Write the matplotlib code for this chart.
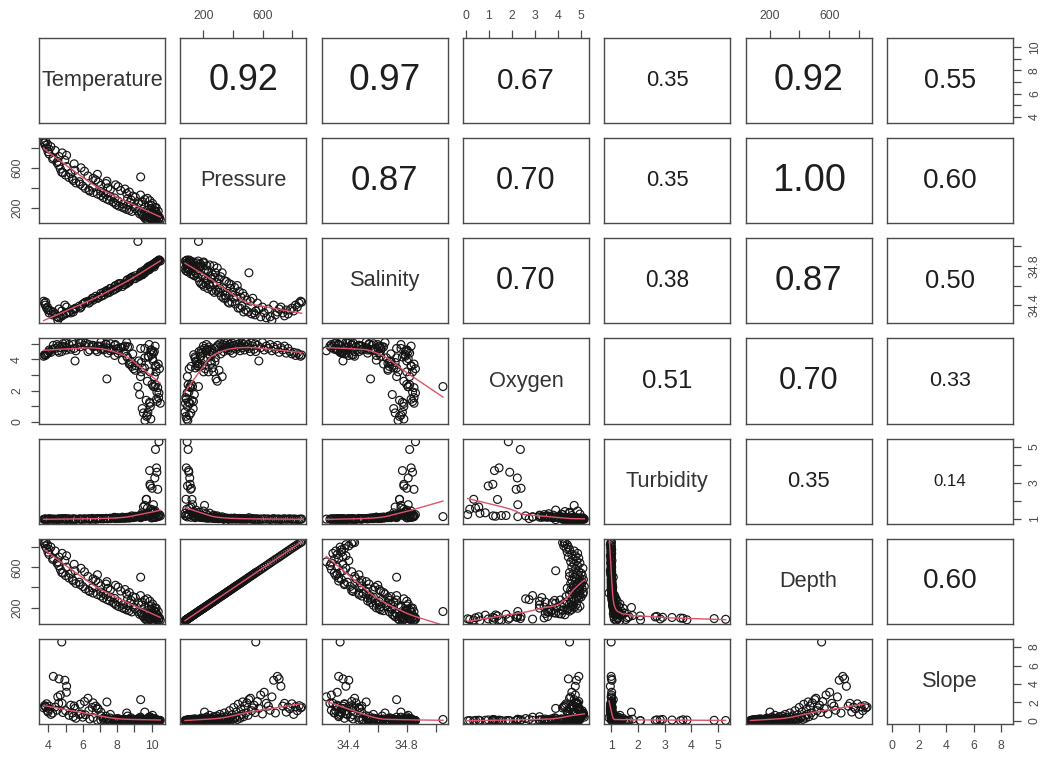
import numpy as np
import matplotlib
matplotlib.use("Agg")
import matplotlib.pyplot as plt

plt.rcParams['font.family'] = ['Liberation Sans', 'DejaVu Sans']

names = ["Temperature", "Pressure", "Salinity", "Oxygen", "Turbidity", "Depth", "Slope"]

depth = [71, 74, 78, 80, 83, 85, 88, 90, 92, 95,
         97, 100, 103, 105, 108, 110, 114, 118, 122, 126,
         130, 134, 138, 142, 146, 150, 155, 158, 162, 166,
         170, 174, 178, 182, 186, 190, 194, 198, 202, 206,
         210, 215, 220, 224, 228, 232, 236, 240, 244, 248,
         252, 256, 260, 264, 268, 272, 276, 280, 284, 288,
         292, 296, 300, 305, 310, 315, 320, 325, 330, 335,
         340, 345, 350, 355, 360, 365, 370, 375, 380, 386,
         392, 398, 404, 410, 416, 422, 428, 434, 440, 446,
         452, 458, 464, 470, 478, 486, 494, 502, 510, 518,
         526, 534, 542, 548, 556, 566, 578, 590, 602, 616,
         630, 642, 654, 666, 678, 690, 702, 714, 726, 738,
         750, 762, 775, 788, 800, 812, 824, 836, 845, 852,
         76, 87, 99, 112, 128, 140, 160, 176, 196, 218]

pressure = [76, 79, 83, 85, 88, 90, 93, 95, 97, 100,
            102, 105, 108, 110, 113, 115, 119, 123, 127, 131,
            135, 139, 143, 147, 151, 155, 160, 163, 167, 171,
            175, 179, 183, 187, 191, 196, 200, 204, 208, 212,
            216, 221, 226, 230, 234, 238, 242, 246, 250, 254,
            258, 262, 266, 270, 274, 278, 282, 286, 290, 294,
            298, 302, 306, 311, 317, 322, 327, 332, 337, 342,
            347, 352, 357, 362, 367, 372, 377, 382, 387, 393,
            399, 405, 411, 417, 423, 429, 435, 442, 448, 454,
            460, 466, 472, 478, 486, 494, 502, 508, 518, 526,
            534, 542, 550, 554, 565, 575, 587, 599, 611, 625,
            639, 651, 663, 675, 687, 700, 712, 724, 736, 748,
            760, 772, 785, 798, 810, 823, 835, 847, 857, 864,
            81, 92, 104, 117, 133, 145, 165, 181, 202, 224]

temperature = [9.78, 10.50, 9.70, 10.28, 9.95, 10.42, 9.92, 9.61, 10.22, 9.88,
               10.30, 9.75, 10.18, 9.90, 10.35, 9.52, 10.02, 9.68, 10.10, 9.45,
               9.98, 9.30, 9.82, 9.58, 10.08, 9.40, 10.25, 8.85, 9.20, 10.15,
               8.70, 9.80, 8.55, 9.95, 9.05, 8.40, 10.20, 8.30, 9.60, 8.95,
               8.10, 9.85, 8.60, 7.95, 9.40, 8.35, 10.05, 7.85, 9.25, 8.75,
               7.75, 9.45, 8.05, 9.90, 7.55, 8.80, 9.60, 7.40, 8.60, 9.75,
               7.85, 7.20, 9.05, 7.60, 8.90, 7.05, 9.35, 7.35, 6.85, 8.55,
               7.20, 6.60, 8.70, 7.05, 6.40, 8.20, 6.35, 7.60, 8.45, 6.15,
               7.45, 6.55, 8.05, 6.00, 7.05, 7.90, 5.85, 7.35, 5.60, 6.90,
               5.80, 7.40, 5.45, 6.75, 5.40, 6.60, 5.20, 9.36, 6.30, 5.00,
               6.85, 5.30, 4.85, 4.78, 6.10, 5.55, 4.70, 5.90, 5.05, 4.60,
               5.50, 4.50, 4.55, 4.96, 4.25, 4.29, 4.62, 5.06, 4.05, 4.80,
               3.98, 4.40, 4.05, 3.90, 4.15, 3.82, 3.95, 3.78, 3.73, 3.85,
               10.40, 10.15, 10.45, 10.20, 10.32, 10.05, 10.38, 10.10, 10.26, 9.98]

salinity = [34.77, 34.85, 34.75, 34.83, 34.78, 34.86, 34.78, 34.74, 34.82, 34.77,
            34.84, 34.76, 34.81, 34.78, 34.85, 34.72, 34.80, 34.75, 34.81, 34.71,
            34.79, 34.70, 34.77, 34.73, 34.80, 34.72, 34.83, 34.68, 35.05, 34.79,
            34.64, 34.79, 34.62, 34.80, 34.70, 34.61, 34.83, 34.59, 34.76, 34.67,
            34.62, 34.76, 34.66, 34.57, 34.74, 34.61, 34.81, 34.59, 34.69, 34.67,
            34.55, 34.71, 34.61, 34.80, 34.53, 34.68, 34.73, 34.55, 34.63, 34.78,
            34.56, 34.53, 34.67, 34.57, 34.69, 34.49, 34.73, 34.54, 34.47, 34.65,
            34.50, 34.47, 34.64, 34.52, 34.43, 34.62, 34.42, 34.57, 34.61, 34.43,
            34.53, 34.47, 34.58, 34.41, 34.49, 34.60, 34.37, 34.54, 34.37, 34.48,
            34.39, 34.52, 34.33, 34.49, 34.35, 34.45, 34.33, 34.73, 34.44, 34.31,
            34.47, 34.32, 34.30, 34.34, 34.42, 34.36, 34.28, 34.38, 34.32, 34.27,
            34.36, 34.28, 34.245, 34.40, 34.30, 34.33, 34.36, 34.38, 34.32, 34.29,
            34.35, 34.31, 34.35, 34.37, 34.34, 34.40, 34.38, 34.42, 34.44, 34.43,
            34.85, 34.82, 34.86, 34.83, 34.84, 34.81, 34.85, 34.82, 34.84, 34.80]

oxygen = [0.62, 1.19, 0.35, 1.45, 0.18, 1.85, 0.98, 0.09, 2.37, 1.25,
          1.91, 0.43, 2.24, 1.18, 2.19, 0.57, 2.40, 1.38, 2.26, 0.85,
          4.30, 1.75, 4.15, 3.45, 3.90, 3.80, 3.60, 3.55, 2.26, 4.50,
          3.70, 4.20, 4.20, 4.60, 3.60, 4.45, 4.85, 3.95, 4.70, 3.40,
          4.55, 4.95, 4.10, 4.65, 3.20, 4.80, 4.50, 4.25, 3.90, 3.75,
          4.60, 3.45, 4.40, 3.20, 4.70, 3.85, 4.10, 2.75, 4.80, 2.60,
          4.90, 4.60, 3.30, 5.00, 4.35, 4.85, 2.90, 4.95, 4.50, 5.08,
          4.70, 4.90, 4.80, 5.10, 4.60, 4.75, 4.95, 4.55, 4.85, 5.05,
          4.40, 4.90, 4.70, 5.14, 4.65, 4.95, 4.80, 5.00, 4.55, 4.85,
          5.05, 4.75, 4.95, 4.60, 5.10, 4.80, 4.95, 4.70, 4.50, 5.05,
          4.85, 4.65, 5.00, 4.50, 4.90, 3.90, 4.75, 5.08, 4.60, 4.85,
          4.70, 4.95, 4.55, 4.80, 4.65, 4.90, 4.45, 4.75, 4.60, 4.85,
          4.40, 4.70, 4.50, 4.35, 4.45, 4.25, 4.40, 4.30, 4.20, 4.28,
          1.55, 2.90, 3.40, 3.55, 1.30, 4.05, 3.70, 4.40, 3.20, 4.60]

turbidity = [1.32, 1.18, 2.10, 3.84, 1.55, 5.29, 2.84, 1.25, 4.86, 3.69,
             3.60, 1.61, 3.28, 2.93, 2.65, 1.67, 2.71, 2.09, 1.80, 1.35,
             1.42, 1.20, 1.28, 1.15, 1.50, 1.22, 1.30, 1.18, 1.14, 1.38,
             1.12, 1.25, 1.10, 1.20, 1.16, 1.08, 1.45, 1.11, 1.76, 1.14,
             1.06, 1.28, 1.09, 1.07, 1.19, 1.05, 1.33, 1.10, 1.13, 1.08,
             1.06, 1.12, 1.05, 1.22, 1.04, 1.09, 1.15, 1.03, 1.07, 1.18,
             1.06, 1.02, 1.10, 1.05, 1.08, 1.03, 1.13, 1.04, 1.01, 1.07,
             1.02, 0.92, 1.06, 1.03, 1.01, 1.04, 1.01, 1.03, 1.05, 1.00,
             1.02, 1.04, 1.06, 1.00, 1.02, 1.03, 1.01, 1.04, 1.00, 1.02,
             1.01, 1.03, 1.00, 1.02, 1.01, 1.00, 1.02, 1.08, 1.01, 1.00,
             1.03, 0.98, 1.01, 1.00, 1.02, 0.97, 1.01, 0.99, 1.02, 1.00,
             1.01, 0.98, 1.00, 1.03, 0.99, 1.00, 1.01, 0.97, 1.00, 1.02,
             0.99, 1.00, 1.02, 0.98, 1.01, 1.00, 0.97, 1.00, 0.99, 1.01,
             1.20, 1.12, 1.25, 1.10, 1.16, 1.08, 1.14, 1.09, 1.11, 1.07]

slope = [0.02, 0.05, 0.00, 0.08, 0.03, 0.04, 0.10, 0.01, 0.06, 0.12,
         0.02, 0.05, 0.09, 0.15, 0.04, 0.07, 0.11, 0.03, 0.18, 0.06,
         0.13, 0.02, 0.22, 0.08, 0.05, 0.16, 0.10, 0.04, 0.15, 0.07,
         0.20, 0.02, 0.12, 0.30, 0.06, 0.18, 0.25, 0.09, 0.95, 0.03,
         0.14, 0.40, 0.08, 0.22, 0.11, 0.05, 0.60, 0.17, 0.28, 0.04,
         0.13, 0.20, 0.06, 0.45, 0.10, 0.33, 0.08, 0.15, 0.52, 0.25,
         0.04, 0.30, 0.12, 0.70, 0.18, 0.09, 0.40, 0.22, 0.06, 0.85,
         0.15, 0.35, 0.10, 0.55, 0.20, 0.12, 1.10, 0.30, 0.08, 0.65,
         0.18, 1.45, 0.25, 0.40, 0.95, 0.15, 1.80, 0.50, 0.28, 1.25,
         0.70, 2.05, 0.45, 1.60, 0.85, 1.95, 0.60, 2.30, 2.45, 1.10,
         1.40, 1.70, 0.90, 8.55, 2.10, 1.35, 2.80, 0.75, 3.10, 1.90,
         1.60, 1.15, 2.60, 4.40, 0.85, 4.82, 4.55, 3.75, 1.60, 1.90,
         0.95, 1.50, 1.30, 1.85, 0.70, 1.55, 1.10, 1.65, 1.40, 1.50,
         0.03, 0.06, 0.02, 0.09, 0.04, 0.12, 0.07, 0.15, 0.05, 0.20]

# |r| printed in the upper panels, row by row
cor_rows = [
    [0.92, 0.97, 0.67, 0.35, 0.92, 0.55],
    [0.87, 0.70, 0.35, 1.00, 0.60],
    [0.70, 0.38, 0.87, 0.50],
    [0.51, 0.70, 0.33],
    [0.35, 0.14],
    [0.60],
]

ticks = {
    "Temperature": [4, 5, 6, 7, 8, 9, 10],
    "Pressure": [200, 400, 600, 800],
    "Salinity": [34.4, 34.6, 34.8, 35.0],
    "Oxygen": [0, 1, 2, 3, 4, 5],
    "Turbidity": [1, 2, 3, 4, 5],
    "Depth": [200, 400, 600, 800],
    "Slope": [0, 2, 4, 6, 8],
}
# which ticks get a label (horizontal / vertical axes)
xlabs = {
    "Temperature": [4, 6, 8, 10], "Pressure": [200, 600], "Salinity": [34.4, 34.8],
    "Oxygen": [0, 1, 2, 3, 4, 5], "Turbidity": [1, 2, 3, 4, 5], "Depth": [200, 600],
    "Slope": [0, 2, 4, 6, 8],
}
ylabs = {
    "Temperature": [4, 6, 8, 10], "Pressure": [200, 600], "Salinity": [34.4, 34.8],
    "Oxygen": [0, 2, 4], "Turbidity": [1, 3, 5], "Depth": [200, 600],
    "Slope": [0, 2, 4, 6, 8],
}

data = {"Temperature": temperature, "Pressure": pressure, "Salinity": salinity,
        "Oxygen": oxygen, "Turbidity": turbidity, "Depth": depth, "Slope": slope}

FRAME = '#4a4a4a'
LABEL = '#4a4a4a'
RED = '#DF536B'


def lowess(x, y, f=2/3, iters=3):
    order = np.argsort(x, kind="stable")
    x = np.asarray(x, float)[order]
    y = np.asarray(y, float)[order]
    n = len(x)
    r = int(np.ceil(f * n))
    robust = np.ones(n)
    fit = np.zeros(n)
    for _ in range(iters + 1):
        for i in range(n):
            d = np.abs(x - x[i])
            h = max(np.sort(d)[r - 1], 1e-12)
            u = np.clip(d / h, 0, 1)
            w = (1 - u ** 3) ** 3 * robust
            sw = w.sum()
            xm = (w * x).sum() / sw
            ym = (w * y).sum() / sw
            sxx = (w * (x - xm) ** 2).sum()
            b = (w * (x - xm) * (y - ym)).sum() / sxx if sxx > 1e-12 else 0.0
            fit[i] = ym + b * (x[i] - xm)
        res = y - fit
        s = np.median(np.abs(res))
        if s == 0:
            break
        u = np.clip(res / (6 * s), -1, 1)
        robust = (1 - u ** 2) ** 2
    return x, fit


def fmt(v):
    return str(int(v)) if float(v).is_integer() else f"{v:g}"


def limits(name):
    v = np.asarray(data[name], float)
    pad = 0.04 * (v.max() - v.min())
    return v.min() - pad, v.max() + pad


n = len(names)
fig, axes = plt.subplots(n, n, figsize=(10.52, 7.58), dpi=100)
fig.subplots_adjust(left=39/1052, right=1013/1052, bottom=34/758, top=720/758,
                    wspace=0.122, hspace=0.176)

for i, yn in enumerate(names):
    for j, xn in enumerate(names):
        ax = axes[i][j]
        ax.set_xlim(limits(xn))
        ax.set_ylim(limits(yn))
        for sp in ax.spines.values():
            sp.set_color(FRAME)
            sp.set_linewidth(1.0)
        ax.set_xticks([])
        ax.set_yticks([])
        ax.tick_params(direction='out', length=5.5, width=0.9, color=FRAME,
                       labelsize=8.8, labelcolor=LABEL, pad=6)

        if i == j:
            ax.text(0.5, 0.5, xn, transform=ax.transAxes, ha='center', va='center',
                    fontsize=15.7, color='#333333')
        elif j > i:
            r = cor_rows[i][j - i - 1]
            ax.text(0.5, 0.5, f"{r:.2f}", transform=ax.transAxes, ha='center',
                    va='center', fontsize=9.6 + 17.7 * r, color='#1e1e1e')
        else:
            ax.scatter(data[xn], data[yn], s=32, facecolors='none',
                       edgecolors='#141414', linewidths=0.85)
            lx, ly = lowess(data[xn], data[yn])
            ax.plot(lx, ly, color=RED, lw=1.0)

        # R pairs() style alternating axes
        xt = ticks[xn]
        xl = [fmt(t) if t in xlabs[xn] else "" for t in xt]
        if i == 0 and j % 2 == 1:
            ax.set_xticks(xt)
            ax.set_xticklabels(xl)
            ax.tick_params(axis='x', top=True, labeltop=True, bottom=False, labelbottom=False)
        if i == n - 1 and j % 2 == 0:
            ax.set_xticks(xt)
            ax.set_xticklabels(xl)
        yt = ticks[yn]
        yl = [fmt(t) if t in ylabs[yn] else "" for t in yt]
        if j == 0 and i % 2 == 1:
            ax.set_yticks(yt)
            ax.set_yticklabels(yl, rotation=90, va='center')
        if j == n - 1 and i % 2 == 0:
            ax.set_yticks(yt)
            ax.set_yticklabels(yl, rotation=90, va='center')
            ax.tick_params(axis='y', right=True, labelright=True, left=False, labelleft=False)

fig.savefig("out.png", dpi=100)
